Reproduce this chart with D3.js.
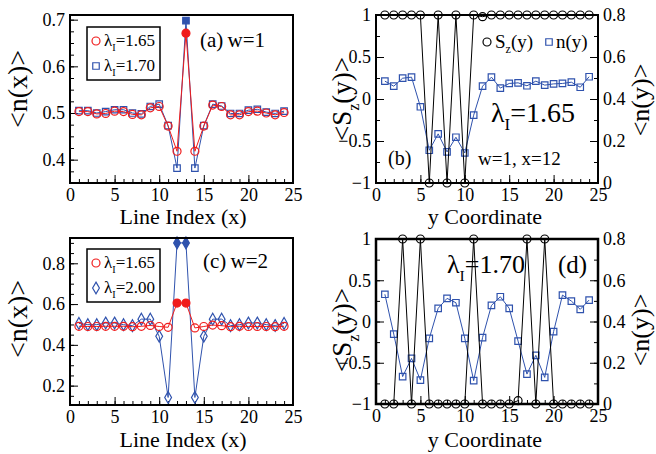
<!DOCTYPE html>
<html>
<head>
<meta charset="utf-8">
<script src="https://cdn.jsdelivr.net/npm/d3@7"></script>
<style>
  body { margin: 0; background: #fff; }
  svg text { font-family: "Liberation Serif", "Times New Roman", Times, serif; fill: #000; }
</style>
</head>
<body>
<div id="viz"></div>
<script>

// site index 1..24 shared by every panel
var sites = d3.range(1, 25);

// (a) w=1
var aRed  = [0.503,0.503,0.498,0.499,0.504,0.503,0.497,0.496,0.511,0.514,0.472,0.418,0.671,0.418,0.472,0.517,0.514,0.496,0.496,0.503,0.504,0.500,0.496,0.501];
var aBlue = [0.505,0.505,0.500,0.503,0.507,0.507,0.500,0.498,0.514,0.519,0.473,0.382,0.698,0.382,0.473,0.519,0.515,0.499,0.499,0.506,0.508,0.502,0.499,0.504];
var aFilled = [13];

// (c) w=2
var cRed  = [0.491,0.490,0.490,0.491,0.491,0.491,0.489,0.491,0.495,0.490,0.486,0.605,0.605,0.483,0.490,0.497,0.494,0.489,0.491,0.490,0.490,0.490,0.489,0.491];
var cBlue = [0.505,0.499,0.499,0.507,0.507,0.499,0.494,0.526,0.526,0.442,0.142,0.900,0.900,0.142,0.442,0.526,0.526,0.494,0.499,0.507,0.507,0.499,0.495,0.505];
var cFilled = [12, 13];

// (b) lambda=1.65, w=1, x=12
var bSz = [1,1,1,1,1,-1,1,-1,1,-1,1,0.98,1,1,1,1,1,1,1,1,1,1,1,1];
var bN  = [0.485,0.461,0.499,0.504,0.363,0.156,0.234,0.148,0.218,0.143,0.323,0.461,0.504,0.452,0.474,0.477,0.463,0.485,0.466,0.472,0.474,0.480,0.456,0.506];

// (d) lambda=1.70
var dSz = [-1,-1,1,-1,1,-1,-1,-1,-1,-1,1,-1,-1,-1,-1,-0.96,1,-1,1,-1,-1,-1,-1,-1];
var dN  = [0.532,0.339,0.133,0.221,0.116,0.318,0.464,0.512,0.491,0.318,0.113,0.322,0.478,0.520,0.464,0.305,0.145,0.236,0.129,0.351,0.528,0.499,0.459,0.504];

var xTicks = [0, 5, 10, 15, 20, 25];

var RED = "#f01c1c";
var BLUE = "#2f52ad";
var FONT = "'Liberation Serif', 'Times New Roman', serif";

var svg = d3.select("#viz").append("svg")
    .attr("width", 656)
    .attr("height", 454)
    .attr("font-family", FONT);

function inwardAxis(g, axisFn, scale, major, minor, len, fmt) {
    g.append("g").call(axisFn(scale).tickValues(minor).tickSize(-len/2).tickFormat(""))
        .call(function(s) { s.select(".domain").remove(); });
    var ax = g.append("g").call(axisFn(scale).tickValues(major).tickSize(-len).tickPadding(5).tickFormat(fmt))
        .call(function(s) { s.select(".domain").remove(); });
    g.selectAll("g").attr("font-family", FONT).attr("font-size", 18);
    ax.selectAll("text").attr("fill", "#000");
    g.selectAll("line").attr("stroke", "#000").attr("stroke-width", 1);
    return ax;
}

function fmtNum(d) {
    return d3.format("")(Math.round(d * 100) / 100);
}

function panel(box) {
    var g = svg.append("g");
    var x = d3.scaleLinear().domain([0, 25]).range([box.left, box.right]);
    g.append("g").attr("transform", "translate(0," + box.bottom + ")")
        .call(function(s) {
            inwardAxis(s, d3.axisBottom, x, xTicks, d3.range(0, 26), 8, d3.format("d"));
        });
    return { g: g, x: x };
}

function frame(g, box, w) {
    g.append("rect")
        .attr("x", box.left).attr("y", box.top)
        .attr("width", box.right - box.left).attr("height", box.bottom - box.top)
        .attr("fill", "none").attr("stroke", "#000").attr("stroke-width", w);
}

function drawSeries(g, x, y, vals, color, shape, size, filled) {
    var line = d3.line().x(function(d, i) { return x(sites[i]); }).y(function(d) { return y(d); });
    g.append("path").datum(vals)
        .attr("d", line).attr("fill", "none").attr("stroke", color).attr("stroke-width", 1);
    g.selectAll(null).data(vals).enter().append("path")
        .attr("transform", function(d, i) { return "translate(" + x(sites[i]) + "," + y(d) + ")"; })
        .attr("d", d3.symbol().type(shape).size(size))
        .attr("fill", function(d, i) { return filled.indexOf(sites[i]) >= 0 ? color : "none"; })
        .attr("stroke", color).attr("stroke-width", 1.2);
}

function lambdaText(g, xp, yp, size, rest) {
    var t = g.append("text").attr("x", xp).attr("y", yp).attr("font-size", size);
    t.append("tspan").text("\u03bb");
    t.append("tspan").attr("dy", size * 0.3).attr("font-size", size * 0.6).text("I");
    t.append("tspan").attr("dy", -size * 0.3).text(rest);
    return t;
}

function legend(g, bx, by, items) {
    g.append("rect").attr("x", bx).attr("y", by).attr("width", 73).attr("height", 53)
        .attr("fill", "#fff").attr("stroke", "#000").attr("stroke-width", 1.5);
    items.forEach(function(it, k) {
        var cy = by + 14 + k * 25;
        g.append("path").attr("transform", "translate(" + (bx + 9) + "," + cy + ")")
            .attr("d", d3.symbol().type(it.shape).size(it.size))
            .attr("fill", "none").attr("stroke", it.color).attr("stroke-width", 1.2);
        lambdaText(g, bx + 17, cy + 5, 17, it.label);
    });
}

function yLabel(xp, yp, size, parts) {
    var t = svg.append("text")
        .attr("transform", "translate(" + xp + "," + yp + ") rotate(-90)")
        .attr("text-anchor", "middle").attr("font-size", size);
    parts.forEach(function(p) {
        var s = t.append("tspan").text(p.t);
        if (p.sub) s.attr("dy", size * 0.3).attr("font-size", size * 0.6);
        if (p.up) s.attr("dy", -size * 0.3);
    });
}

function xLabel(xp, yp, txt) {
    svg.append("text").attr("x", xp).attr("y", yp).attr("text-anchor", "middle")
        .attr("font-size", 22).text(txt);
}

// ---------- (a)
var boxA = { left: 70, right: 293, top: 15, bottom: 183 };
var pa = panel(boxA);
var yA = d3.scaleLinear().domain([0.35, 0.71]).range([boxA.bottom, boxA.top]);
pa.g.append("g").attr("transform", "translate(" + boxA.left + ",0)").call(function(s) {
    inwardAxis(s, d3.axisLeft, yA, [0.4, 0.5, 0.6, 0.7], d3.range(0.35, 0.711, 0.025), 8, d3.format(".1f"));
});
drawSeries(pa.g, pa.x, yA, aBlue, BLUE, d3.symbolSquare, 42, aFilled);
drawSeries(pa.g, pa.x, yA, aRed, RED, d3.symbolCircle, 50, aFilled);
frame(pa.g, boxA, 2);
legend(pa.g, 87, 27, [
    { shape: d3.symbolCircle, size: 50, color: RED, label: "=1.65" },
    { shape: d3.symbolSquare, size: 42, color: BLUE, label: "=1.70" }
]);
pa.g.append("text").attr("x", 200).attr("y", 47).attr("font-size", 21).text("(a)\u2009w=1");
yLabel(27, 89, 28, [{ t: "<n(x)>" }]);
xLabel(183, 224, "Line Index (x)");

// ---------- (c)
var boxC = { left: 70, right: 293, top: 238, bottom: 405 };
var pc = panel(boxC);
var yC = d3.scaleLinear().domain([0.105, 0.924]).range([boxC.bottom, boxC.top]);
pc.g.append("g").attr("transform", "translate(" + boxC.left + ",0)").call(function(s) {
    inwardAxis(s, d3.axisLeft, yC, [0.2, 0.4, 0.6, 0.8], d3.range(0.15, 0.92, 0.05), 8, d3.format(".1f"));
});
drawSeries(pc.g, pc.x, yC, cBlue, BLUE, d3.symbolDiamond, 40, cFilled);
drawSeries(pc.g, pc.x, yC, cRed, RED, d3.symbolCircle, 50, cFilled);
frame(pc.g, boxC, 2);
legend(pc.g, 87, 249, [
    { shape: d3.symbolCircle, size: 50, color: RED, label: "=1.65" },
    { shape: d3.symbolDiamond, size: 40, color: BLUE, label: "=2.00" }
]);
pc.g.append("text").attr("x", 203).attr("y", 268).attr("font-size", 21).text("(c)\u2009w=2");
yLabel(27, 319, 28, [{ t: "<n(x)>" }]);
xLabel(183, 447, "Line Index (x)");

// ---------- spin panels
function spinPanel(box, sz, nv, fw) {
    var p = panel(box);
    var yL = d3.scaleLinear().domain([-1, 1]).range([box.bottom, box.top]);
    var yR = d3.scaleLinear().domain([0, 0.8]).range([box.bottom, box.top]);
    p.g.append("g").attr("transform", "translate(" + box.left + ",0)").call(function(s) {
        inwardAxis(s, d3.axisLeft, yL, [-1, -0.5, 0, 0.5, 1], d3.range(-1, 1.01, 0.25), 8, fmtNum);
    });
    p.g.append("g").attr("transform", "translate(" + box.right + ",0)").call(function(s) {
        inwardAxis(s, d3.axisRight, yR, [0, 0.2, 0.4, 0.6, 0.8], d3.range(0, 0.81, 0.1),
            8, function(d) { return d === 0 ? "0" : d3.format(".1f")(d); });
    });
    drawSeries(p.g, p.x, yR, nv, BLUE, d3.symbolSquare, 42, []);
    drawSeries(p.g, p.x, yL, sz, "#000", d3.symbolCircle, 50, []);
    frame(p.g, box, fw);
    return p;
}

// (b)
var boxB = { left: 376, right: 598, top: 15, bottom: 183 };
var pb = spinPanel(boxB, bSz, bN, 2);
pb.g.append("path").attr("transform", "translate(487,42)").attr("d", d3.symbol().type(d3.symbolCircle).size(50))
    .attr("fill", "none").attr("stroke", "#000").attr("stroke-width", 1.2);
var tb = pb.g.append("text").attr("x", 495).attr("y", 48).attr("font-size", 19);
tb.append("tspan").text("S");
tb.append("tspan").attr("dy", 5).attr("font-size", 12).text("z");
tb.append("tspan").attr("dy", -5).text("(y)");
pb.g.append("path").attr("transform", "translate(549,42)").attr("d", d3.symbol().type(d3.symbolSquare).size(42))
    .attr("fill", "none").attr("stroke", BLUE).attr("stroke-width", 1.2);
pb.g.append("text").attr("x", 556).attr("y", 48).attr("font-size", 19).text("n(y)");
lambdaText(pb.g, 491, 122, 28, "=1.65");
pb.g.append("text").attr("x", 388).attr("y", 165).attr("font-size", 20).text("(b)");
pb.g.append("text").attr("x", 478).attr("y", 165).attr("font-size", 19).text("w=1, x=12");
yLabel(351, 99, 27, [{ t: "<S" }, { t: "z", sub: true }, { t: "(y)>", up: true }]);
yLabel(649, 100, 26, [{ t: "<n(y)>" }]);
xLabel(485, 224, "y Coordinate");

// (d)
var boxD = { left: 376, right: 598, top: 239, bottom: 404 };
var pd = spinPanel(boxD, dSz, dN, 2.5);
lambdaText(pd.g, 447, 273, 26, "=1.70");
pd.g.append("text").attr("x", 558).attr("y", 273).attr("font-size", 25).text("(d)");
yLabel(351, 330, 27, [{ t: "<S" }, { t: "z", sub: true }, { t: "(y)>", up: true }]);
yLabel(649, 330, 26, [{ t: "<n(y)>" }]);
xLabel(485, 447, "y Coordinate");

</script>
</body>
</html>
